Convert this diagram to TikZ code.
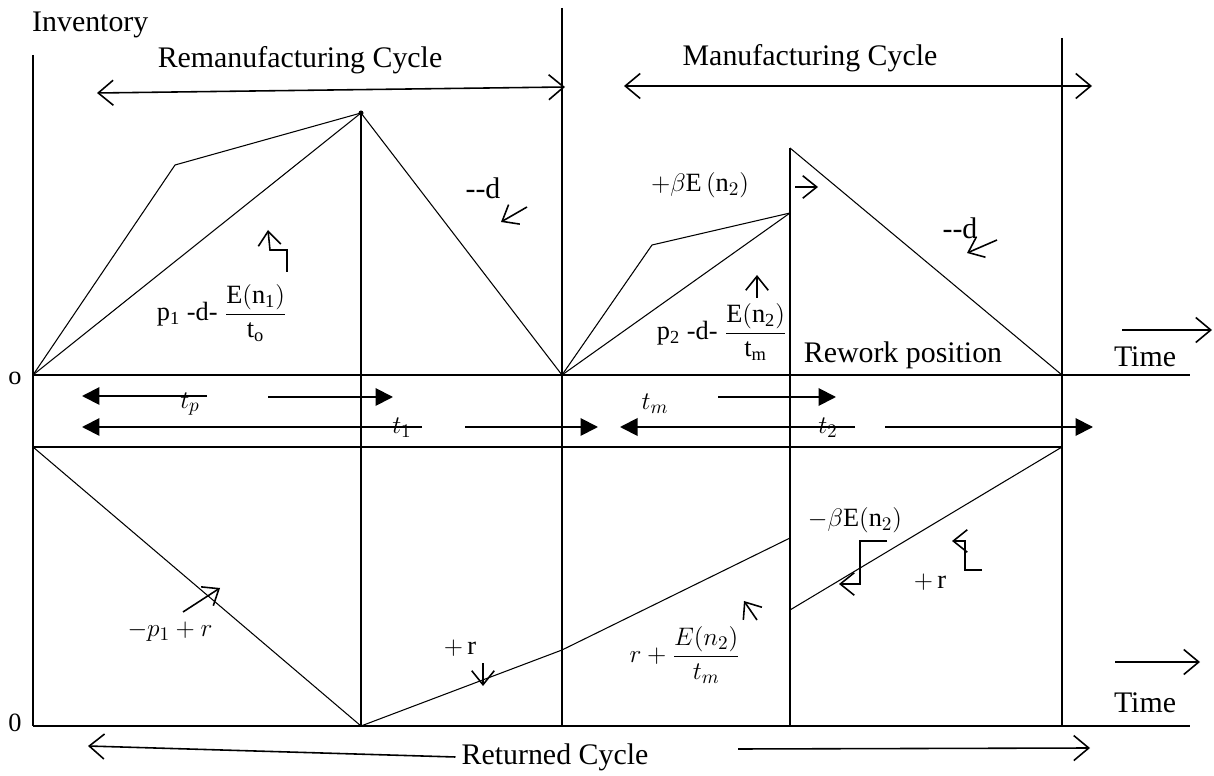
\documentclass[tikz,border=0pt]{standalone}
\usepackage{amsmath}
\usepackage{fontspec}
\setmainfont{Liberation Serif}
\usetikzlibrary{arrows.meta}

\tikzset{
	axis/.style={line width=0.9pt},
	path/.style={line width=0.6pt},
	cyclearrow/.style={line width=0.9pt, {Straight Barb[length=3mm,width=5mm]}-{Straight Barb[length=3mm,width=5mm]}},
	bandarrow/.style={line width=1.1pt, -{Triangle[length=3.5mm,width=3.5mm]}},
	rate/.style={line width=0.9pt, -{Straight Barb[length=2.8mm,width=4.5mm]}},
	big/.style={font=\fontsize{17}{20}\selectfont},
	lab/.style={font=\fontsize{15}{17}\selectfont},
}

\begin{document}
\begin{tikzpicture}[x=0.02cm, y=-0.02cm]

	\useasboundingbox (0,0) rectangle (1214,776);

	% axes and cycle limits
	\coordinate (O1) at (33,375);
	\coordinate (O2) at (33,726);
	\coordinate (B1) at (33,447);

	\draw[axis] (33,55) -- (O2);
	\draw[axis] (O1) -- (1190,375);
	\draw[axis] (B1) -- (1062,447);
	\draw[axis] (O2) -- (1190,726);

	\draw[axis] (361,113) -- (361,726);
	\draw[axis] (562,8) -- (562,726);
	\draw[axis] (790,148) -- (790,726);
	\draw[axis] (1062,38) -- (1062,726);

	% remanufacturing
	\coordinate (K1) at (175,165);
	\coordinate (P1) at (361,113);
	\coordinate (Z1) at (562,375);
	\fill (P1) circle (0.5mm);
	\draw[path] (O1) -- (K1) -- (P1);
	\draw[path] (O1) -- (P1) -- (Z1);

	% manufacturing
	\coordinate (K2) at (652,245);
	\coordinate (P2) at (790,213);
	\coordinate (Q2) at (790,148);
	\coordinate (Z2) at (1062,375);
	\draw[path] (Z1) -- (K2) -- (P2);
	\draw[path] (Z1) -- (P2);
	\draw[path] (Q2) -- (Z2);

	% returns
	\coordinate (R0) at (361,726);
	\coordinate (R1) at (562,650);
	\coordinate (R2) at (790,538);
	\coordinate (R3) at (790,610);
	\coordinate (R4) at (1062,447);
	\draw[path] (B1) -- (R0);
	\draw[path] (R0) -- (R1) -- (R2);
	\draw[path] (R3) -- (R4);

	% texts
	\node[big, anchor=west] (inv) at (26,25) {Inventory};
	\node[big] (remc) at (300,60) {Remanufacturing Cycle};
	\node[big] (manc) at (810,58) {Manufacturing Cycle};
	\node[big] (rew) at (903,355) {Rework position};
	\node[big] (time1) at (1145,357) {Time};
	\node[big] (time2) at (1145,703) {Time};
	\node[big] (ret) at (555,757) {Returned Cycle};
	\node[lab] (o1) at (15,378) {o};
	\node[lab] (o2) at (15,723) {0};

	\node[big] (dd1) at (483,188) {-{}-d};
	\node[big] (dd2) at (960,228) {-{}-d};
	\node[lab] (pb) at (700,185) {$+\beta\mathrm{E}\,(\mathrm{n}_2)$};
	\node[lab] (mb) at (855,520) {$-\beta\mathrm{E}(\mathrm{n}_2)$};
	\node[lab] (f1) at (222,313) {p\textsubscript{1} -d- $\dfrac{\mathrm{E(n_1)}}{\mathrm{t_o}}$};
	\node[lab] (f2) at (722,332) {p\textsubscript{2} -d- $\dfrac{\mathrm{E(n_2)}}{\mathrm{t_m}}$};
	\node[lab] (f3) at (170,632) {$-p_1+r$};
	\node[lab] (f4) at (460,648) {$+\,\mathrm{r}$};
	\node[lab] (f5) at (685,655) {$r+\dfrac{E(n_2)}{t_m}$};
	\node[lab] (f6) at (930,582) {$+\,\mathrm{r}$};

	\node[lab] (tp) at (190,404) {$t_p$};
	\node[lab] (t1) at (402,428) {$t_1$};
	\node[lab] (tm) at (655,404) {$t_m$};
	\node[lab] (t2) at (828,428) {$t_2$};

	% cycle spans
	\draw[cyclearrow] (97,93) -- (565,87);
	\draw[cyclearrow] (624,86) -- (1092,86);
	\draw[line width=0.9pt, {Straight Barb[length=3mm,width=5mm]}-] (88,746) -- (ret.west);
	\draw[line width=0.9pt, -{Straight Barb[length=3mm,width=5mm]}] (738,749) -- (1090,748);
	\draw[line width=0.9pt, -{Straight Barb[length=3mm,width=5mm]}] (1122,330) -- (1212,330);
	\draw[line width=0.9pt, -{Straight Barb[length=3mm,width=5mm]}] (1115,662) -- (1200,662);

	% time bands
	\draw[bandarrow] (207,396) -- (82,396);
	\draw[bandarrow] (268,397) -- (393,397);
	\draw[bandarrow] (422,427) -- (82,427);
	\draw[bandarrow] (465,427) -- (598,427);
	\draw[bandarrow] (718,397) -- (836,397);
	\draw[bandarrow] (855,427) -- (620,427);
	\draw[bandarrow] (885,427) -- (1093,427);

	% rate arrows
	\draw[rate] (527,207) -- (501,222);
	\draw[rate] (997,240) -- (967,253);
	\draw[rate] (795,187) -- (818,187);
	\draw[rate] (757,298) -- (757,275);
	\draw[rate] (287,272) -- (287,250) -- (270,250) -- (268,230);
	\draw[rate] (183,612) -- (220,588);
	\draw[rate] (483,663) -- (483,686);
	\draw[rate] (757,620) -- (744,601);
	\draw[rate] (887,541) -- (860,541) -- (860,584) -- (839,584);
	\draw[rate] (982,570) -- (965,570) -- (965,541) -- (952,541);

\end{tikzpicture}
\end{document}
